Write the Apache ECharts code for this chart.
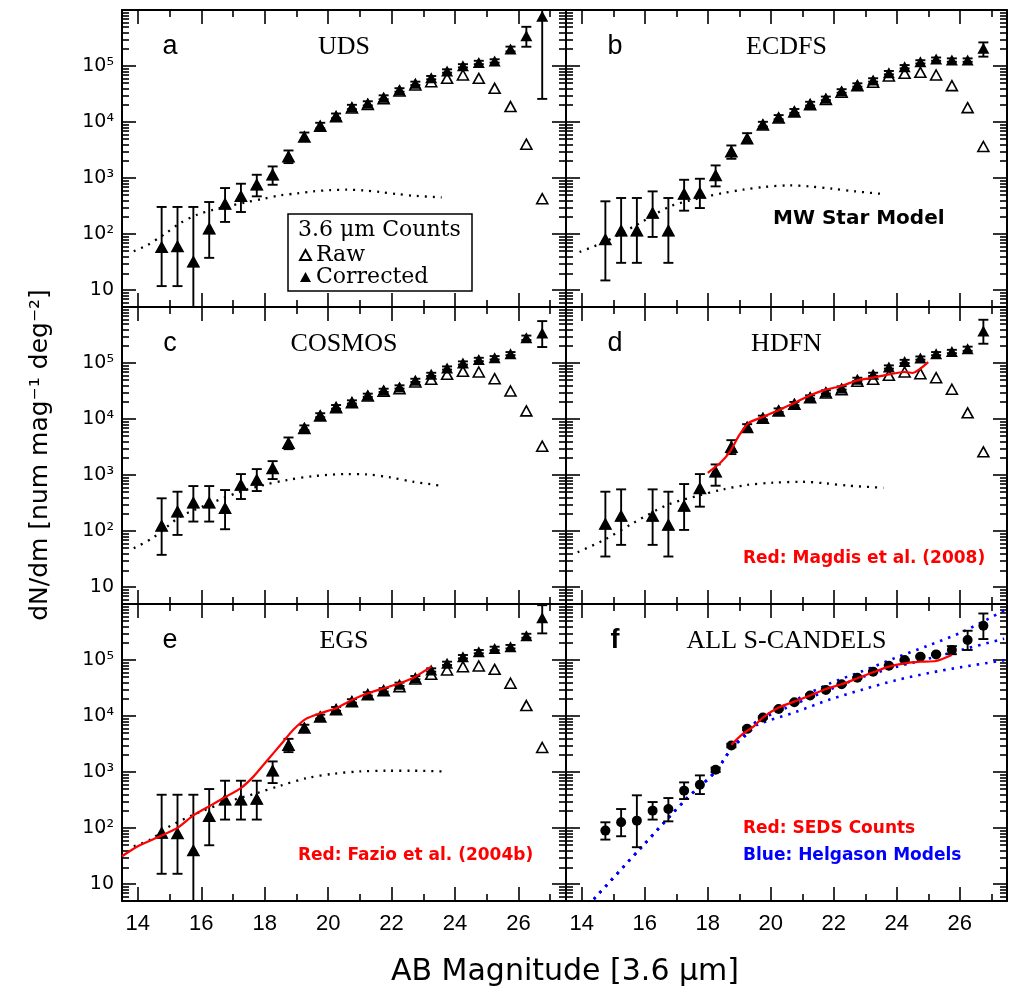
<!DOCTYPE html>
<html><head><meta charset="utf-8">
<script src="https://cdn.jsdelivr.net/npm/echarts@6/dist/echarts.min.js"></script>
<style>html,body{margin:0;padding:0;background:#fff}#c{width:1009px;height:994px}</style>
</head><body><div id="c"></div>
<script>
// ---------------- DATA ----------------
const mags = [14.75,15.25,15.75,16.25,16.75,17.25,17.75,18.25,18.75,19.25,19.75,20.25,20.75,21.25,21.75,22.25,22.75,23.25,23.75,24.25,24.75,25.25,25.75,26.25,26.75];

const xTickValues = [14,16,18,20,22,24,26];
const xMinorValues = [15,17,19,21,23,25,27];
const yTickValues = [10,100,1000,10000,100000];
const yTickLabels = ['10','10²','10³','10⁴','10⁵'];

const panelLetters = ['a','b','c','d','e','f'];
const panelNames = ['UDS','ECDFS','COSMOS','HDFN','EGS','ALL S-CANDELS'];

// Panel a: UDS
const aCorr = [58,60,32,125,344,472,760,1146,2430,5520,8660,12900,18600,21600,27700,37400,49100,62000,81500,101000,116000,123000,201000,347000,776000];
const aLo   = [11.8,11.8,1,37.7,165,248,472,760,1850,4620,7700,11700,17000,19800,25600,34800,45800,57900,76000,94500,108000,115000,182000,221000,25900];
const aHi   = [305,305,305,374,664,793,1146,1614,3110,6500,9700,14200,20300,23500,30000,40200,52600,66400,87400,108000,124000,132000,222000,501000,1300000];
const aRaw  = [58,60,32,125,344,472,760,1146,2400,5400,8400,12400,17800,20600,26200,35900,45900,52600,60300,69200,60300,40000,18900,4030,429];

// Panel b: ECDFS
const bCorr = [80,115,115,238,115,519,541,1115,2985,5150,9150,12200,15800,21300,26500,35900,45900,56400,76100,97300,119000,133000,128000,128000,207000];
const bLo   = [14.9,30.7,30.7,89,30.7,262,292,711,2210,4200,8300,11200,14600,19700,24600,33400,42800,52600,71000,90800,111000,124000,119000,119000,147000];
const bHi   = [385,441,441,579,441,933,973,1683,3820,6330,10100,13300,17100,23000,28500,38600,49200,60500,81600,104000,127000,142000,137000,137000,264000];
const bRaw  = [80,115,115,238,115,519,541,1115,2950,5050,8900,11800,15200,20400,25300,34000,44700,51200,66400,74000,77100,69200,44700,18100,3660];

// Panel c: COSMOS
const cCorr = [124,222,321,321,255,664,815,1315,3770,6960,11700,16500,20200,26600,32600,37400,49100,62800,81500,100000,116000,124000,147000,282000,342000];
const cLo   = [37.7,85.5,148,148,108,374,519,849,2900,6300,10800,15300,18900,24900,30500,35000,46000,58800,76300,93600,108000,116000,138000,258000,193000];
const cHi   = [385,505,637,637,541,1042,1279,1774,4690,7700,12700,17800,21600,28400,34800,40000,52400,67000,87000,107000,124000,133000,157000,309000,560000];
const cRaw  = [124,222,321,321,255,664,815,1315,3700,6800,11400,16000,19600,25700,31400,34900,45900,51200,62800,71100,69200,52600,31700,14000,3280];

// Panel d: HDFN (no point at 15.75)
const dCorr = [134,186,null,186,129,281,579,1146,3190,7260,10600,14400,18900,24800,30500,35900,51200,62800,84900,107000,123000,147000,161000,180000,372000];
const dLo   = [35.2,56.8,null,56.8,35.2,105,273,646,2370,6500,9800,13400,17700,23200,28500,33600,47900,58700,79400,100000,115000,138000,150000,165000,221000];
const dHi   = [505,556,null,556,505,692,1042,1549,4200,8100,11500,15500,20200,26500,32600,38400,54700,67100,90800,114000,131000,157000,172000,196000,592000];
const dRaw  = [134,186,null,186,129,281,579,1146,3150,7100,10300,14000,18300,23900,29300,33500,47200,51200,60300,69200,64600,54800,34000,12900,2600];

// Panel e: EGS
const eCorr = [82,80,39.7,163,321,321,330,1056,3070,6240,9800,13400,18600,24800,29300,36900,48400,66400,87300,115000,141000,161000,173000,271000,567000];
const eLo   = [15.3,15.3,1,49.4,142,142,142,637,2270,5500,9000,12400,17300,23100,27300,34500,45200,62000,81500,107000,132000,150000,161000,250000,299000];
const eHi   = [394,394,394,498,701,701,701,1549,3920,7000,10600,14500,20000,26600,31500,39500,51800,71100,93500,123000,151000,173000,186000,294000,953000];
const eRaw  = [82,80,39.7,163,321,321,330,1056,3000,6100,9600,13000,18000,24000,28300,33500,45900,55600,66400,76100,78200,68200,38500,15400,2750];

// Panel f: ALL S-CANDELS
const fCorr = [90.2,127,136,205,219,466,594,1100,2985,5910,9400,13400,17600,23200,29300,36900,48400,62000,79300,100000,115000,126000,151000,227000,408000];
const fLo   = [62.4,71.6,45.6,142,132,330,405,1000,2770,5600,9000,12900,17000,22400,28300,35700,46800,60000,76700,96800,111000,122000,127000,151000,237000];
const fHi   = [127,219,385,292,344,655,873,1200,3200,6250,9800,13900,18200,24000,30300,38100,50000,64000,81900,103000,119000,130000,177000,333000,677000];

// MW star model (dotted)
const aMwX = [13.87,14.29,14.82,15.34,15.87,16.39,16.92,17.44,17.97,18.49,19.02,19.54,20.07,20.59,21.12,21.64,22.17,22.69,23.58];
const aMwY = [49.4,63.2,97.9,158,222,273,321,374,429,491,533,579,611,620,603,564,519,484,453];
const bMwX = [13.93,14.77,15.76,16.81,17.76,18.49,19.12,19.75,20.59,21.22,21.96,22.69,23.58];
const bMwY = [48,74.5,148,313,441,541,620,692,740,711,646,579,519];
const cMwX = [13.87,14.5,15.34,16.29,17.23,17.97,18.7,19.54,20.59,21.22,21.96,22.69,23.64];
const cMwY = [49.5,77.6,181,313,505,664,815,960,1042,1028,908,760,637];
const dMwX = [13.87,14.71,15.66,16.71,17.65,18.49,19.23,20.07,21.01,21.75,22.48,23.58];
const dMwY = [42,69.7,142,292,423,556,664,731,760,711,646,594];
const eMwX = [13.87,14.4,14.92,15.76,16.71,17.76,18.49,19.33,20.17,21.01,21.85,22.69,23.58];
const eMwY = [47.5,62.4,101,174,281,423,571,782,934,1028,1057,1057,1028];

// Red comparison counts
const dRedX = [18.0,18.4,18.7,19.0,19.3,19.75,20.25,20.75,21.25,21.75,22.25,22.75,23.25,23.75,24.25,24.5,25.0];
const dRedY = [1100,1660,2600,5150,8550,10900,14400,19400,26600,33500,39000,49100,54800,62800,69200,66400,104000];
const eRedX = [13.5,14.0,14.7,15.25,15.75,16.3,16.7,17.25,17.65,18.05,18.5,18.9,19.3,19.75,20.25,20.75,21.25,21.75,22.25,22.75,23.25];
const eRedY = [31.5,47.5,71.6,101,169,255,344,519,838,1549,3070,5680,8910,11200,13800,19400,25500,31300,38500,50500,76100];
const fRedX = [18.75,19.1,19.45,19.75,20.25,20.75,21.25,21.75,22.25,22.75,23.25,23.75,24.25,24.75,25.25,25.75];
const fRedY = [3070,4750,6500,9400,14200,18100,23200,30500,36900,47200,60300,76100,87300,93300,96000,123000];

// Blue Helgason models
const blueUpX  = [14.2,14.35,15.92,17.29,18.24,18.76,19.3,19.6,20.81,21.87,22.92,23.97,25.02,26.07,27.41];
const blueUpY  = [4.2,5.15,47.1,319,1016,2650,5600,8500,19700,38000,63700,110000,183000,315000,766000];
const blueMidX = [14.2,14.35,15.92,17.29,18.24,18.76,19.3,19.55,20.81,21.87,22.92,23.97,25.02,26.07,27.41];
const blueMidY = [4.2,5.15,47.1,319,1016,2650,5300,7890,16700,29700,49900,75000,106000,153000,240000];
const blueLowX = [14.2,14.35,15.92,17.29,18.24,18.76,19.3,19.55,20.81,21.87,22.92,23.97,25.02,26.07,27.41];
const blueLowY = [4.2,5.15,47.1,319,1016,2650,5000,6890,11900,19700,29700,43500,58700,75000,98800];

// ---------------- CHART ----------------
const zip = (xs, ys) => xs.map((x, i) => [x, ys[i]]);
const errs = (lo, hi) => mags.map((m, i) => [m, lo[i], hi[i]]).filter(d => d[1] != null);

const yMinorValues = [];
[1,10,100,1000,10000,100000].forEach(p => { for (let k = 2; k <= 9; k++) { const v = k * p; if (v >= 5 && v < 1e6) yMinorValues.push(v); } });

const gridBoxes = [[122,10,444,297],[566,10,441,297],[122,307,444,297],[566,307,441,297],[122,604,444,297],[566,604,441,297]];

const panels = [
  {corr:aCorr, lo:aLo, hi:aHi, raw:aRaw, mwX:aMwX, mwY:aMwY},
  {corr:bCorr, lo:bLo, hi:bHi, raw:bRaw, mwX:bMwX, mwY:bMwY},
  {corr:cCorr, lo:cLo, hi:cHi, raw:cRaw, mwX:cMwX, mwY:cMwY},
  {corr:dCorr, lo:dLo, hi:dHi, raw:dRaw, mwX:dMwX, mwY:dMwY, red:[dRedX,dRedY]},
  {corr:eCorr, lo:eLo, hi:eHi, raw:eRaw, mwX:eMwX, mwY:eMwY, red:[eRedX,eRedY]},
  {corr:fCorr, lo:fLo, hi:fHi, red:[fRedX,fRedY], blue:[[blueUpX,blueUpY],[blueMidX,blueMidY],[blueLowX,blueLowY]]}
];

function yLabel(v) {
  const i = yTickValues.findIndex(t => Math.abs(Math.log10(t) - Math.log10(v)) < 1e-6);
  return i >= 0 ? yTickLabels[i] : '';
}

function renderErr(params, api) {
  const x = api.value(0), lo = api.value(1), hi = api.value(2);
  const p1 = api.coord([x, lo]), p2 = api.coord([x, hi]);
  const cw = 5;
  const style = {stroke:'#000', lineWidth:1.9};
  return {type:'group', children:[
    {type:'line', shape:{x1:p1[0], y1:p1[1], x2:p2[0], y2:p2[1]}, style},
    {type:'line', shape:{x1:p1[0]-cw, y1:p1[1], x2:p1[0]+cw, y2:p1[1]}, style},
    {type:'line', shape:{x1:p2[0]-cw, y1:p2[1], x2:p2[0]+cw, y2:p2[1]}, style}
  ]};
}

const grids = [], xAxes = [], yAxes = [], series = [];
gridBoxes.forEach((b, g) => {
  grids.push({left:b[0], top:b[1], width:b[2], height:b[3], show:false});
  const bottomRow = g >= 4, leftCol = g % 2 === 0;
  const xa = (pos, major, labels) => ({
    type:'value', gridIndex:g, position:pos, min:13.5, max:27.5,
    axisLine:{show:major, onZero:false, lineStyle:{color:'#000', width:2}},
    axisTick:{show:true, inside:true, length:major?14:7, lineStyle:{color:'#000', width:1.6}, customValues:major?xTickValues:xMinorValues},
    axisLabel:{show:labels, customValues:xTickValues, margin:12, color:'#000', fontSize:22, fontFamily:'Liberation Sans'},
    splitLine:{show:false}
  });
  const ya = (pos, major, labels) => ({
    type:'log', logBase:10, gridIndex:g, position:pos, min:5, max:1e6,
    axisLine:{show:major, onZero:false, lineStyle:{color:'#000', width:2}},
    axisTick:{show:true, inside:true, length:major?14:7, lineStyle:{color:'#000', width:1.6}, customValues:major?yTickValues:yMinorValues},
    axisLabel:{show:labels, customValues:yTickValues, formatter:yLabel, margin:8, color:'#000', fontSize:19, fontFamily:'DejaVu Sans'},
    splitLine:{show:false}, minorTick:{show:false}
  });
  xAxes.push(xa('bottom', true, bottomRow), xa('bottom', false, false), xa('top', true, false), xa('top', false, false));
  yAxes.push(ya('left', true, leftCol), ya('left', false, false), ya('right', true, false), ya('right', false, false));

  const p = panels[g];
  const ax = {xAxisIndex:4*g, yAxisIndex:4*g};
  if (p.mwX) series.push(Object.assign({type:'line', name:'MW Star Model', data:zip(p.mwX, p.mwY), showSymbol:false, smooth:0.3,
    lineStyle:{color:'#000', width:2.3, type:[2,6]}, z:2, silent:true}, ax));
  if (p.blue) p.blue.forEach(bl => series.push(Object.assign({type:'line', name:'Helgason Models', data:zip(bl[0], bl[1]), showSymbol:false, smooth:0.3,
    lineStyle:{color:'#0000ff', width:2.6, type:[2.5,6]}, z:2, silent:true}, ax)));
  if (p.raw) series.push(Object.assign({type:'scatter', name:'Raw', data:zip(mags, p.raw).filter(d => d[1] != null), symbol:'triangle', symbolSize:[11,10],
    itemStyle:{color:'#fff', borderColor:'#000', borderWidth:1.6, opacity:1}, z:3, silent:true}, ax));
  series.push(Object.assign({type:'custom', name:'Error', renderItem:renderErr, data:errs(p.lo, p.hi), encode:{x:0, y:[1,2]}, clip:true, z:4, silent:true}, ax));
  if (g < 5) series.push(Object.assign({type:'scatter', name:'Corrected', data:zip(mags, p.corr).filter(d => d[1] != null), symbol:'triangle', symbolSize:[12,11],
    itemStyle:{color:'#000', opacity:1}, z:5, silent:true}, ax));
  else series.push(Object.assign({type:'scatter', name:'All S-CANDELS', data:zip(mags, p.corr), symbol:'circle', symbolSize:10,
    itemStyle:{color:'#000', opacity:1}, z:5, silent:true}, ax));
  if (p.red) series.push(Object.assign({type:'line', name:'Red', data:zip(p.red[0], p.red[1]), showSymbol:false, smooth:0.2,
    lineStyle:{color:'#ff0000', width:2.2}, z:6, silent:true}, ax));
});

const graphics = [];
gridBoxes.forEach((b, g) => {
  const left = g % 2 === 0;
  graphics.push({type:'text', x:b[0] + b[2]/2, y:b[1] + 37, z:20,
    style:{text:panelNames[g], fontFamily:'Liberation Serif', fontSize:26, fill:'#000', align:'center', verticalAlign:'middle'}});
  graphics.push({type:'text', x:left ? 170 : 615, y:b[1] + 37, z:20,
    style:{text:panelLetters[g], fontFamily:'Liberation Sans', fontSize:27, fontWeight:(g===5?'bold':'normal'), fill:'#000', align:'center', verticalAlign:'middle'}});
});
graphics.push(
  {type:'rect', shape:{x:288, y:214, width:184, height:77}, style:{fill:'#fff', stroke:'#000', lineWidth:1.5}, z:1},
  {type:'text', x:298, y:230, z:20, style:{text:'3.6 μm Counts', fontFamily:'DejaVu Serif', fontSize:22, fill:'#000', align:'left', verticalAlign:'middle'}},
  {type:'text', x:773, y:219, z:20, style:{text:'MW Star Model', fontFamily:'DejaVu Sans', fontWeight:'bold', fontSize:20, fill:'#000', align:'left', verticalAlign:'middle'}},
  {type:'text', x:743, y:559, z:20, style:{text:'Red: Magdis et al. (2008)', fontFamily:'DejaVu Sans', fontWeight:'bold', fontSize:17, fill:'#ff0000', align:'left', verticalAlign:'middle'}},
  {type:'text', x:298, y:856, z:20, style:{text:'Red: Fazio et al. (2004b)', fontFamily:'DejaVu Sans', fontWeight:'bold', fontSize:17, fill:'#ff0000', align:'left', verticalAlign:'middle'}},
  {type:'text', x:743, y:829, z:20, style:{text:'Red: SEDS Counts', fontFamily:'DejaVu Sans', fontWeight:'bold', fontSize:17, fill:'#ff0000', align:'left', verticalAlign:'middle'}},
  {type:'text', x:743, y:856, z:20, style:{text:'Blue: Helgason Models', fontFamily:'DejaVu Sans', fontWeight:'bold', fontSize:17, fill:'#0000ff', align:'left', verticalAlign:'middle'}},
  {type:'text', x:565, y:972, z:20, style:{text:'AB Magnitude [3.6 μm]', fontFamily:'DejaVu Sans', fontSize:30, fill:'#000', align:'center', verticalAlign:'middle'}},
  {type:'text', x:40, y:455, rotation:Math.PI/2, z:20, style:{text:'dN/dm [num mag⁻¹ deg⁻²]', fontFamily:'DejaVu Sans', fontSize:25, fill:'#000', align:'center', verticalAlign:'middle'}}
);

const chart = echarts.init(document.getElementById('c'), null, {renderer:'canvas'});
chart.setOption({
  animation:false,
  backgroundColor:'#fff',
  grid:grids, xAxis:xAxes, yAxis:yAxes, series:series,
  legend:{data:['Raw','Corrected'], orient:'vertical', left:299, top:244, padding:0, itemGap:0,
    itemWidth:11, itemHeight:10, selectedMode:false, z:20,
    textStyle:{fontFamily:'DejaVu Serif', fontSize:22, color:'#000', lineHeight:22}},
  graphic:graphics
});
</script>
</body></html>
